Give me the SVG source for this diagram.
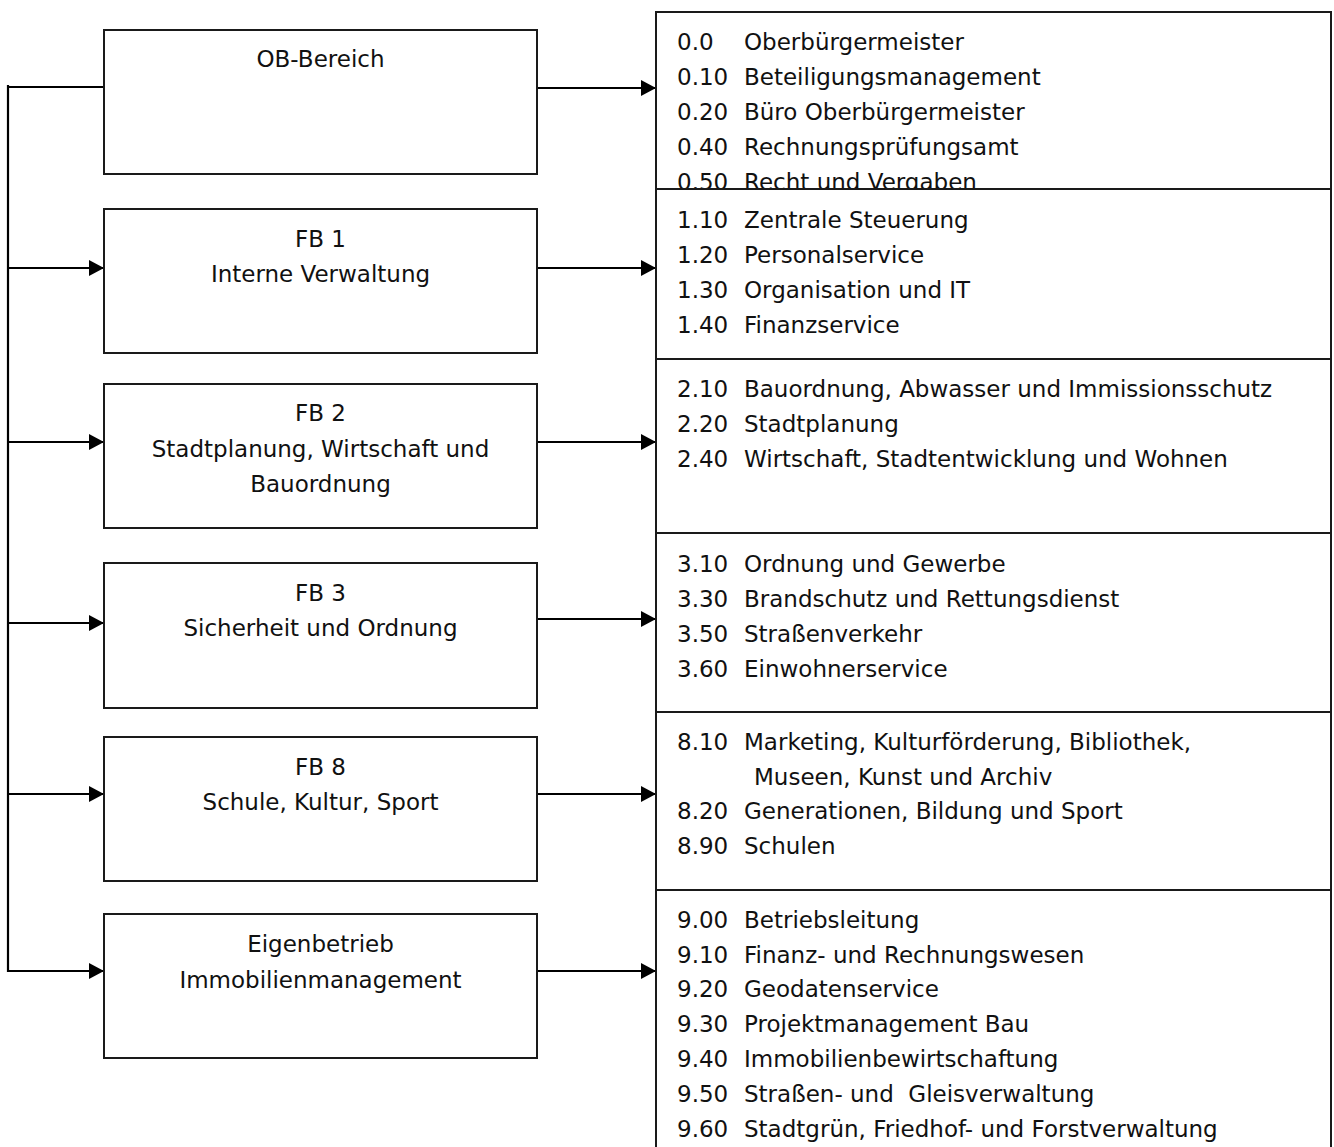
<svg xmlns="http://www.w3.org/2000/svg" width="1334" height="1147" viewBox="0 0 1334 1147">
<style>
.box{fill:#fff;stroke:#1a1a1a;stroke-width:2}
.t{font-family:"DejaVu Sans","Liberation Sans",sans-serif;font-size:23px;fill:#111}
.c{text-anchor:middle}
.ln{fill:none;stroke:#000;stroke-width:2.2}
</style>
<defs>
<marker id="ah" markerUnits="userSpaceOnUse" markerWidth="16" markerHeight="16" refX="15" refY="8" orient="auto">
<path d="M0,0 L15,8 L0,16 z" fill="#000"/>
</marker>
</defs>
<rect width="1334" height="1147" fill="#fff"/>

<g id="connectors">
<path class="ln" d="M8,85 V972"/>
<path class="ln" d="M8,87 H104"/>
<path class="ln" d="M8,268 H104" marker-end="url(#ah)"/>
<path class="ln" d="M8,442 H104" marker-end="url(#ah)"/>
<path class="ln" d="M8,623 H104" marker-end="url(#ah)"/>
<path class="ln" d="M8,794 H104" marker-end="url(#ah)"/>
<path class="ln" d="M8,971 H104" marker-end="url(#ah)"/>
<path class="ln" d="M537,88 H656" marker-end="url(#ah)"/>
<path class="ln" d="M537,268 H656" marker-end="url(#ah)"/>
<path class="ln" d="M537,442 H656" marker-end="url(#ah)"/>
<path class="ln" d="M537,619 H656" marker-end="url(#ah)"/>
<path class="ln" d="M537,794 H656" marker-end="url(#ah)"/>
<path class="ln" d="M537,971 H656" marker-end="url(#ah)"/>
</g>

<g id="ob">
<rect class="box" x="104" y="30" width="433" height="144"/>
<text class="t c" x="320.5" y="67">OB-Bereich</text>
</g>
<g id="fb1">
<rect class="box" x="104" y="209" width="433" height="144"/>
<text class="t c" x="320.5" y="247">FB 1</text>
<text class="t c" x="320.5" y="282">Interne Verwaltung</text>
</g>
<g id="fb2">
<rect class="box" x="104" y="384" width="433" height="144"/>
<text class="t c" x="320.5" y="421">FB 2</text>
<text class="t c" x="320.5" y="457">Stadtplanung, Wirtschaft und</text>
<text class="t c" x="320.5" y="492">Bauordnung</text>
</g>
<g id="fb3">
<rect class="box" x="104" y="563" width="433" height="145"/>
<text class="t c" x="320.5" y="601">FB 3</text>
<text class="t c" x="320.5" y="636">Sicherheit und Ordnung</text>
</g>
<g id="fb8">
<rect class="box" x="104" y="737" width="433" height="144"/>
<text class="t c" x="320.5" y="775">FB 8</text>
<text class="t c" x="320.5" y="810">Schule, Kultur, Sport</text>
</g>
<g id="eig">
<rect class="box" x="104" y="914" width="433" height="144"/>
<text class="t c" x="320.5" y="952">Eigenbetrieb</text>
<text class="t c" x="320.5" y="988">Immobilienmanagement</text>
</g>

<g id="ob-list">
<rect class="box" x="656" y="12" width="675" height="177"/>
<text class="t" y="50"><tspan x="677">0.0</tspan><tspan x="744">Oberbürgermeister</tspan></text>
<text class="t" y="85"><tspan x="677">0.10</tspan><tspan x="744">Beteiligungsmanagement</tspan></text>
<text class="t" y="120"><tspan x="677">0.20</tspan><tspan x="744">Büro Oberbürgermeister</tspan></text>
<text class="t" y="155"><tspan x="677">0.40</tspan><tspan x="744">Rechnungsprüfungsamt</tspan></text>
<text class="t" y="190"><tspan x="677">0.50</tspan><tspan x="744">Recht und Vergaben</tspan></text>
</g>
<g id="fb1-list">
<rect class="box" x="656" y="189" width="675" height="170"/>
<text class="t" y="228"><tspan x="677">1.10</tspan><tspan x="744">Zentrale Steuerung</tspan></text>
<text class="t" y="263"><tspan x="677">1.20</tspan><tspan x="744">Personalservice</tspan></text>
<text class="t" y="298"><tspan x="677">1.30</tspan><tspan x="744">Organisation und IT</tspan></text>
<text class="t" y="333"><tspan x="677">1.40</tspan><tspan x="744">Finanzservice</tspan></text>
</g>
<g id="fb2-list">
<rect class="box" x="656" y="359" width="675" height="174"/>
<text class="t" y="397"><tspan x="677">2.10</tspan><tspan x="744">Bauordnung, Abwasser und Immissionsschutz</tspan></text>
<text class="t" y="432"><tspan x="677">2.20</tspan><tspan x="744">Stadtplanung</tspan></text>
<text class="t" y="467"><tspan x="677">2.40</tspan><tspan x="744">Wirtschaft, Stadtentwicklung und Wohnen</tspan></text>
</g>
<g id="fb3-list">
<rect class="box" x="656" y="533" width="675" height="179"/>
<text class="t" y="572"><tspan x="677">3.10</tspan><tspan x="744">Ordnung und Gewerbe</tspan></text>
<text class="t" y="607"><tspan x="677">3.30</tspan><tspan x="744">Brandschutz und Rettungsdienst</tspan></text>
<text class="t" y="642"><tspan x="677">3.50</tspan><tspan x="744">Straßenverkehr</tspan></text>
<text class="t" y="677"><tspan x="677">3.60</tspan><tspan x="744">Einwohnerservice</tspan></text>
</g>
<g id="fb8-list">
<rect class="box" x="656" y="712" width="675" height="178"/>
<text class="t" y="750"><tspan x="677">8.10</tspan><tspan x="744">Marketing, Kulturförderung, Bibliothek,</tspan></text>
<text class="t" x="754" y="785">Museen, Kunst und Archiv</text>
<text class="t" y="819"><tspan x="677">8.20</tspan><tspan x="744">Generationen, Bildung und Sport</tspan></text>
<text class="t" y="854"><tspan x="677">8.90</tspan><tspan x="744">Schulen</tspan></text>
</g>
<g id="eig-list">
<rect class="box" x="656" y="890" width="675" height="270"/>
<text class="t" y="928"><tspan x="677">9.00</tspan><tspan x="744">Betriebsleitung</tspan></text>
<text class="t" y="963"><tspan x="677">9.10</tspan><tspan x="744">Finanz- und Rechnungswesen</tspan></text>
<text class="t" y="997"><tspan x="677">9.20</tspan><tspan x="744">Geodatenservice</tspan></text>
<text class="t" y="1032"><tspan x="677">9.30</tspan><tspan x="744">Projektmanagement Bau</tspan></text>
<text class="t" y="1067"><tspan x="677">9.40</tspan><tspan x="744">Immobilienbewirtschaftung</tspan></text>
<text class="t" y="1102"><tspan x="677">9.50</tspan><tspan x="744" xml:space="preserve">Straßen- und  Gleisverwaltung</tspan></text>
<text class="t" y="1137"><tspan x="677">9.60</tspan><tspan x="744">Stadtgrün, Friedhof- und Forstverwaltung</tspan></text>
</g>
</svg>
